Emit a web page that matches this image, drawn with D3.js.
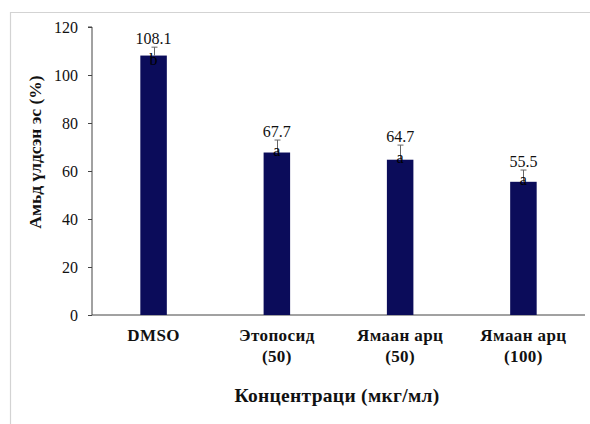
<!DOCTYPE html>
<html><head><meta charset="utf-8">
<script src="https://cdn.jsdelivr.net/npm/d3@7"></script>
<style>body{margin:0;background:#fff}svg{display:block}svg text{font-family:"Liberation Serif","DejaVu Serif",serif}</style>
</head><body>
<svg id="c" width="590" height="424"></svg>
<script>
const categories = [["DMSO"], ["Этопосид", "(50)"], ["Ямаан арц", "(50)"], ["Ямаан арц", "(100)"]];
const values = [108.1, 67.7, 64.7, 55.5];
const errors = [3.5, 5.2, 6.1, 4.9];
const letters = ["b", "a", "a", "a"];
const yTicks = [0, 20, 40, 60, 80, 100, 120];
const yTitle = "Амьд үлдсэн эс (%)";
const xTitle = "Концентраци (мкг/мл)";

const svg = d3.select("#c");
const m = {l: 92, r: 5, t: 27, b: 109};
const W = 590, H = 424;

// outer frame
svg.append("path").attr("d", `M10.5,424 V12.5 H590`).attr("fill", "none").attr("stroke", "#d3d3d3").attr("stroke-width", 1.2);

const idx = categories.map((d, i) => i);
const x = d3.scaleBand().domain(idx).range([m.l, W - m.r]).paddingInner(0.785).paddingOuter(0.392);
const y = d3.scaleLinear().domain([0, 120]).range([H - m.b, m.t]);

// y axis
const ya = svg.append("g").attr("transform", `translate(${m.l},0)`)
  .call(d3.axisLeft(y).tickValues(yTicks).tickSize(4).tickPadding(10));
ya.attr("font-family", null);
ya.select(".domain").attr("stroke", "#444").attr("d", `M-4,${y(120)}H0V${y(0)}`);
ya.selectAll(".tick line").attr("stroke", "#444");
ya.selectAll(".tick text").style("font-size", "16px").attr("fill", "#111");

// x axis line
svg.append("line").attr("x1", m.l).attr("x2", W - m.r).attr("y1", y(0)).attr("y2", y(0)).attr("stroke", "#444");

// bars
svg.append("g").selectAll("rect").data(values).join("rect")
  .attr("x", (d, i) => x(i)).attr("width", x.bandwidth())
  .attr("y", d => y(d)).attr("height", d => y(0) - y(d))
  .attr("fill", "#0b0c5a");

// error bars (upper half visible)
const eg = svg.append("g").attr("stroke", "#666").attr("stroke-width", 1);
values.forEach((v, i) => {
  const cx = Math.round(x(i) + x.bandwidth() / 2) + 0.5;
  eg.append("line").attr("x1", cx).attr("x2", cx).attr("y1", y(v + errors[i])).attr("y2", y(v));
  eg.append("line").attr("x1", cx - 3).attr("x2", cx + 3).attr("y1", y(v + errors[i])).attr("y2", y(v + errors[i]));
});

// letters
svg.append("g").selectAll("text").data(letters).join("text")
  .attr("x", (d, i) => x(i) + x.bandwidth() / 2)
  .attr("y", (d, i) => y(values[i]) + (d === "b" ? 9 : 3))
  .attr("text-anchor", "middle").style("font-size", "16px").attr("fill", "#000")
  .text(d => d);

// value labels
svg.append("g").selectAll("text").data(values).join("text")
  .attr("x", (d, i) => x(i) + x.bandwidth() / 2)
  .attr("y", (d, i) => y(d + errors[i]) - 3)
  .attr("text-anchor", "middle").style("font-size", "16px").attr("fill", "#111")
  .text(d => d.toFixed(1));

// category labels
const cl = svg.append("g");
categories.forEach((lines, i) => {
  const t = cl.append("text").attr("x", x(i) + x.bandwidth() / 2).attr("y", 341)
    .attr("text-anchor", "middle").style("font-weight", "bold").style("font-size", "17px")
    .style("letter-spacing", "0.4px").attr("fill", "#111");
  lines.forEach((s, j) => t.append("tspan").attr("x", x(i) + x.bandwidth() / 2).attr("dy", j ? 21 : 0).text(s));
});

// axis titles
svg.append("text").attr("x", 337).attr("y", 402).attr("text-anchor", "middle")
  .style("font-weight", "bold").style("font-size", "19.5px").style("letter-spacing", "0.3px")
  .attr("fill", "#111").text(xTitle);
svg.append("text").attr("transform", "translate(41,152) rotate(-90)").attr("text-anchor", "middle")
  .style("font-weight", "bold").style("font-size", "17.5px").attr("fill", "#111").text(yTitle);
</script>
</body></html>
